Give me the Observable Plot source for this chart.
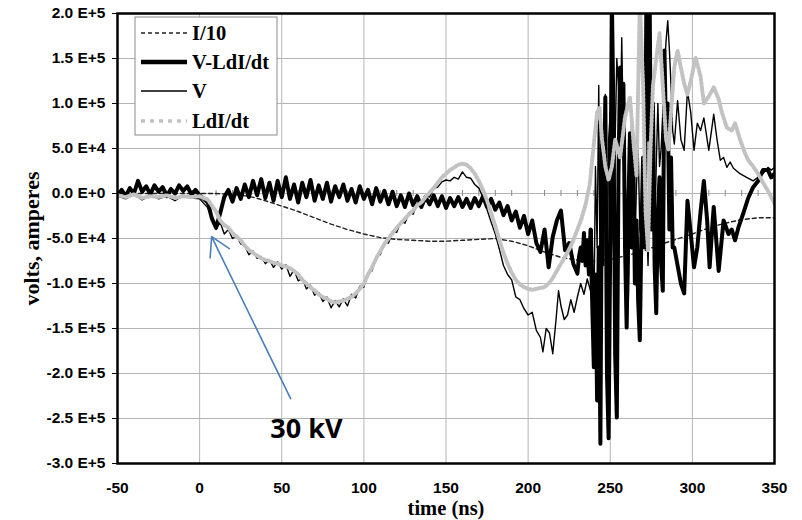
<!DOCTYPE html>
<html>
<head>
<meta charset="utf-8">
<script src="https://cdn.jsdelivr.net/npm/d3@7"></script>
<script src="https://cdn.jsdelivr.net/npm/@observablehq/plot@0.6"></script>
<style>
  body { margin: 0; background: white; }
  #wrap { position: relative; width: 802px; height: 520px; }
  #legend { position: absolute; left: 0; top: 0; }
</style>
</head>
<body>
<div id="wrap"></div>
<script>
// ---------- axes ----------
const xTicks = [-50, 0, 50, 100, 150, 200, 250, 300, 350];
const xTickLabels = ["-50", "0", "50", "100", "150", "200", "250", "300", "350"];
const yTicks = [-300, -250, -200, -150, -100, -50, 0, 50, 100, 150, 200]; // thousands
const yTickLabels = ["-3.0 E+5", "-2.5 E+5", "-2.0 E+5", "-1.5 E+5", "-1.0 E+5", "-5.0 E+4", "0.0 E+0", "5.0 E+4", "1.0 E+5", "1.5 E+5", "2.0 E+5"];
const minorTicks = [-40, -30, -20, -10, 10, 20, 30, 40, 60, 70, 80, 90, 110, 120, 130, 140, 160, 170, 180, 190, 210, 220, 230, 240, 260, 270, 280, 290, 310, 320, 330, 340];
const xTitle = "time (ns)";
const yTitle = "volts, amperes";
const seriesNames = ["I/10", "V-LdI/dt", "V", "LdI/dt"];

// ---------- series (values in thousands) ----------
// I/10
const iT = [-50,-40,-30,-20,-10,0,10,20,30,40,50,60,70,80,90,100,110,120,130,140,150,160,170,180,190,200,210,220,230,240,250,260,270,280,290,300,310,320,330,340,350];
const iV = [0,0,0,0,0,0,0,-1,-3,-8,-14,-20,-27,-34,-40,-45,-49,-51,-52,-53,-53,-52,-51,-50,-53,-58,-65,-71,-74,-75,-73,-69,-64,-57,-51,-45,-38,-33,-29,-27,-27];

// V-LdI/dt
const vmT = [-50,-47.5,-45,-42.5,-40,-37.5,-35,-32.5,-30,-27.5,-25,-22.5,-20,-17.5,-15,-12.5,-10,-7.5,-5,-2.5,
  0,2.5,5,7.5,10,12.5,15,17.5,20,22.5,25,27.5,30,32.5,35,37.5,40,42.5,45,47.5,
  50,52.5,55,57.5,60,62.5,65,67.5,70,72.5,75,77.5,80,82.5,85,87.5,90,92.5,95,97.5,
  100,102.5,105,107.5,110,112.5,115,117.5,120,122.5,125,127.5,130,132.5,135,137.5,140,142.5,145,147.5,
  150,152.5,155,157.5,160,162.5,165,167.5,170,172.5,175,177.5,180,182.5,185,187.5,190,192.5,195,197.5,
  200,202.5,205,207.5,210,212.5,215,217.5,220,222.5,225,227.5,230,
  231,232,233,234,235,236,237,238,239,240,241,242,243,244,245,246,247,248,249,250,
  251,252,253,254,255,256,257,258,259,260,261,262,263,264,265,266,267,268,269,270,
  271,272,273,274,275,276,277,278,279,280,281,282,283,284,285,286,287,288,289,
  291,293,295,297,299,301,303,305,307,309,310.5,312,313,316,319,322,324,326,328,331,334,337,340,343,346,348,350];
const vmV = [-2,4,-3,6,0,14,2,8,-1,9,2,7,-3,5,0,9,3,8,-1,4,
  -2,-6,-10,-28,-38,-22,-4,4,-9,6,-6,10,-4,14,-2,16,-5,12,-8,14,
  -4,18,-6,10,-10,12,-4,15,-8,9,-6,12,-9,8,-4,10,-8,5,-10,8,
  -6,4,-12,6,-9,3,-12,2,-14,-2,-15,0,-13,-3,-15,-4,-12,-2,-14,-3,
  -16,-5,-14,-4,-15,-6,-16,-5,-14,-3,-15,-6,-18,-10,-24,-14,-30,-20,-38,-25,
  -45,-30,-55,-65,-40,-82,-48,-30,-19,-63,-55,-78,-89,
  -70,-60,-75,-44,-80,-52,-90,-40,-120,-193,-90,-230,-60,-278,60,-27,107,-200,-272,-50,
  215,80,-180,-249,20,140,60,122,-60,-149,-20,67,-60,48,-100,-30,-120,-163,-40,40,
  -60,215,60,215,-40,100,-80,-133,-20,18,-80,-108,159,60,100,-40,40,-60,-60,
  -80,-100,-111,-8,-44,-82,-60,-20,14,-30,-82,-40,-15,-86,-30,-45,-40,-52,-38,-22,-5,7,14,26,26,18,22];

// V
const vT = [-50,-45,-40,-35,-30,-25,-20,-15,-10,-5,0,5,10,
  12.5,15,17.5,20,22.5,25,27.5,30,32.5,35,37.5,40,42.5,45,47.5,50,52.5,55,57.5,60,62.5,65,67.5,70,72.5,75,77.5,
  80,82.5,85,87.5,90,92.5,95,97.5,100,102.5,105,107.5,110,112.5,115,117.5,120,122.5,125,127.5,130,132.5,135,137.5,
  140,142.5,145,147.5,150,152.5,155,157.5,160,162.5,165,167.5,170,172.5,175,177.5,180,182.5,185,187.5,190,192.5,195,197.5,
  200,202.5,205,207.5,209,211,213,215,217,218.5,220,222,224,226,228,230,232,234,236,
  238,239,240,241,242,243,244,245,246,247,248,249,250,251,252,253,254,255,256,257,258,259,260,
  261,262,263,264,265,266,267,268,269,270,271,272,273,274,275,276,277,278,279,280,281,282,283,284,285,286,287,288,289,
  291,293,295,297,299,301,303,305,307,310,313,315,317,319,321,323,325,329,333,337,340,343,346,348,350];
const vV = [-3,-6,-1,-7,-2,-6,-3,-8,-2,-5,-6,-16,-40,
  -32,-45,-40,-50,-47,-56,-58,-68,-64,-72,-70,-78,-74,-82,-76,-84,-79,-92,-85,-97,-94,-106,-102,-113,-110,-120,-115,
  -127,-119,-126,-117,-125,-112,-116,-103,-104,-88,-86,-70,-68,-54,-55,-42,-43,-31,-33,-21,-23,-11,-14,-2,
  -4,6,7,13,15,14,18,16,24,18,17,10,6,-4,-18,-32,-45,-62,-80,-90,-96,-115,-118,-128,
  -135,-132,-152,-160,-176,-150,-155,-178,-140,-108,-125,-140,-135,-118,-132,-115,-100,-112,-95,
  -108,-40,-140,30,-60,120,-150,40,-80,110,-120,60,90,-20,-60,60,150,120,60,173,60,20,-60,
  -120,-20,80,40,-60,10,50,-40,-50,30,60,-20,-80,0,40,-10,-40,30,100,30,50,90,140,170,192,160,120,70,55,
  103,60,48,114,90,48,78,70,84,48,88,60,37,40,29,35,28,22,18,14,18,22,29,26,29];

// LdI/dt
const ldiT = [-50,-45,-40,-35,-30,-25,-20,-15,-10,-5,0,5,10,
  12.5,15,17.5,20,22.5,25,27.5,30,32.5,35,37.5,40,42.5,45,47.5,50,52.5,55,57.5,60,62.5,65,67.5,70,72.5,75,77.5,
  80,82.5,85,87.5,90,92.5,95,97.5,100,102.5,105,107.5,110,112.5,115,117.5,120,122.5,125,127.5,130,132.5,135,137.5,
  140,142.5,145,147.5,150,152.5,155,157.5,160,162.5,165,167.5,170,172.5,175,177.5,180,182.5,185,187.5,190,192.5,195,197.5,
  200,202.5,205,207.5,210,212.5,215,217.5,220,222.5,225,227.5,230,232.5,235,237.5,
  240,242,243.5,245,247,249,251,253,256,259,262,264,266,268,270,271.5,273,274.5,276,278,280,282,284,285.5,287,289,291,293,295,297,299,302,305,307,310,313,316,318,321,324,326,329,332,334,337,340,343,346,348,350];
const ldiV = [-2,-4,-1,-5,-3,-4,-2,-5,-3,-4,-3,-7,-20,
  -30,-35,-38,-44,-48,-52,-58,-63,-66,-69,-72,-74,-75,-77,-78,-80,-81,-83,-86,-90,-96,-100,-104,-108,-112,-115,-117,
  -120,-121,-120,-119,-117,-115,-111,-106,-100,-90,-82,-72,-64,-56,-50,-44,-38,-33,-28,-23,-19,-13,-10,-4,
  1,6,12,18,22,26,29,32,33,32,28,22,14,4,-8,-22,-36,-52,-66,-78,-88,-96,-101,-104,
  -106,-107,-106,-105,-104,-100,-94,-86,-78,-70,-62,-52,-40,-28,-12,10,
  55,90,95,60,30,15,30,60,40,85,107,60,20,215,120,-20,-63,48,120,150,178,120,60,48,90,140,159,140,122,110,125,151,130,100,108,118,105,90,73,70,78,60,45,37,30,22,12,3,-4,-11];

// annotation
const annoArrow = [{t1: 55.4, v1: -228, t2: 7.3, v2: -48}];
const annoText = [{t: 65, v: -262, label: "30 kV"}];

const toRows = (T, V, name) => T.map((t, i) => ({t, v: V[i], name}));
const iData = toRows(iT, iV, seriesNames[0]);
const vmData = toRows(vmT, vmV, seriesNames[1]);
const vData = toRows(vT, vV, seriesNames[2]);
const ldiData = toRows(ldiT, ldiV, seriesNames[3]);

const serif = "'Liberation Serif', 'Times New Roman', serif";
const grid = "#b4b4b4";
const gray = "#c2c2c2";

const chart = Plot.plot({
  width: 802, height: 520,
  marginLeft: 117, marginRight: 28, marginTop: 13, marginBottom: 57,
  style: {fontFamily: "'Liberation Sans', Arial, sans-serif", fontSize: "15.5px", fontWeight: "bold", color: "black", background: "white"},
  x: {domain: [-50, 350]},
  y: {domain: [-300, 200]},
  marks: [
    Plot.gridX(xTicks, {stroke: grid, strokeOpacity: 1, strokeWidth: 1}),
    Plot.gridY(yTicks, {stroke: grid, strokeOpacity: 1, strokeWidth: 1}),
    Plot.ruleX(minorTicks, {y1: 0, y2: 0, insetTop: -3, insetBottom: -3, stroke: "#888"}),
    Plot.axisX({ticks: xTicks, tickSize: 0, tickPadding: 18, tickFormat: d => xTickLabels[xTicks.indexOf(d)], label: null}),
    Plot.axisY({ticks: yTicks, tickSize: 5, tickPadding: 7, tickFormat: d => yTickLabels[yTicks.indexOf(d)], label: null, stroke: "black"}),
    Plot.line(iData, {x: "t", y: "v", stroke: "#222", strokeWidth: 1.4, strokeDasharray: "4,3", clip: true}),
    Plot.line(vmData, {x: "t", y: "v", stroke: "black", strokeWidth: 4, strokeLinejoin: "round", clip: true}),
    Plot.line(vData, {x: "t", y: "v", stroke: "black", strokeWidth: 1.4, clip: true}),
    Plot.line(ldiData, {x: "t", y: "v", stroke: gray, strokeWidth: 4, strokeDasharray: "2,2", clip: true}),
    Plot.frame({stroke: "black", strokeWidth: 2.5}),
    Plot.arrow(annoArrow, {x1: "t1", y1: "v1", x2: "t2", y2: "v2", stroke: "#4a7ebb", strokeWidth: 1.6, headLength: 20, bend: 0}),
    Plot.text(annoText, {x: "t", y: "v", text: "label", fontFamily: "'Open Sans', sans-serif", fontSize: 27, fontWeight: "bold", fill: "black"}),
    Plot.text([xTitle], {frameAnchor: "bottom", dy: 45, lineAnchor: "middle", textAnchor: "middle", fontFamily: serif, fontSize: 20.5, fontWeight: "bold", fill: "black"}),
    Plot.text([yTitle], {frameAnchor: "left", dx: -86, rotate: -90, lineAnchor: "middle", textAnchor: "middle", fontFamily: serif, fontSize: 22, fontWeight: "bold", fill: "black", letterSpacing: "1px"})
  ]
});
const wrap = document.getElementById("wrap");
wrap.appendChild(chart);

// legend
const ns = "http://www.w3.org/2000/svg";
const leg = document.createElementNS(ns, "svg");
leg.setAttribute("id", "legend");
leg.setAttribute("width", 802);
leg.setAttribute("height", 520);
const styles = [
  {stroke: "#222", w: 1.6, dash: "4,3"},
  {stroke: "black", w: 4.5, dash: null},
  {stroke: "black", w: 1.5, dash: null},
  {stroke: gray, w: 3.5, dash: "4,5"}
];
const rowY = [33, 62, 91, 121];
let html = `<rect x="135" y="17" width="142" height="118" fill="white" stroke="#8a8a8a" stroke-width="1"/>`;
seriesNames.forEach((n, i) => {
  const s = styles[i];
  html += `<line x1="141" x2="187" y1="${rowY[i]}" y2="${rowY[i]}" stroke="${s.stroke}" stroke-width="${s.w}" ${s.dash ? `stroke-dasharray="${s.dash}"` : ""}/>`;
  html += `<text x="192" y="${rowY[i] + 7}" font-family="${serif}" font-size="20.5" font-weight="bold" fill="black">${n}</text>`;
});
leg.innerHTML = html;
wrap.appendChild(leg);
</script>
</body>
</html>
